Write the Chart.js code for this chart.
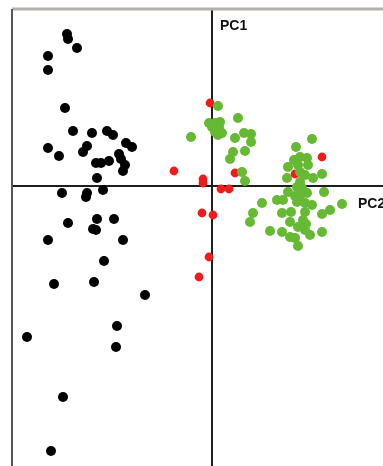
<!DOCTYPE html>
<html>
<head>
<meta charset="utf-8">
<script src="https://cdn.jsdelivr.net/npm/chart.js@4"></script>
<style>
    html, body { margin: 0; padding: 0; background: #fff; }
    #wrap { width: 383px; height: 466px; }
</style>
</head>
<body>
<div id="wrap"><canvas id="pcaChart"></canvas></div>
<script>
// PCA score plot: three groups on PC1 / PC2
const blackX = [-14.5, -14.4, -13.5, -16.4, -16.4, -14.7, -13.9, -12.0, -10.5, -9.9, -16.4, -15.3, -12.5, -12.9, -8.6, -8.0, -11.6, -11.1, -10.3, -9.3, -9.1, -8.7, -8.9, -11.5, -15.0, -12.5, -12.6, -10.9, -14.4, -11.5, -11.9, -11.6, -9.8, -16.4, -8.9, -10.8, -15.8, -11.8, -6.7, -9.5, -18.5, -9.6, -14.9, -16.1];
const blackY = [15.2, 14.7, 13.8, 13.0, 11.6, 7.8, 5.5, 5.3, 5.5, 5.1, 3.8, 3.0, 4.0, 3.4, 4.3, 3.9, 2.3, 2.3, 2.5, 3.2, 2.7, 2.1, 1.5, 0.8, -0.7, -0.7, -1.1, -0.4, -3.7, -3.3, -4.3, -4.4, -3.3, -5.4, -5.4, -7.5, -9.8, -9.6, -10.9, -14.0, -15.1, -16.1, -21.1, -26.5];

const greenX = [0.6, 2.6, -0.3, 0.3, 0.7, 0.3, 1.0, 0.6, 0.0, -2.1, 2.3, 3.2, 3.9, 3.9, 2.1, 3.3, 1.8, 3.0, 3.3, 0.8, 10.0, 8.4, 8.8, 9.5, 7.6, 8.6, 9.6, 11.0, 7.5, 9.3, 10.1, 8.8, 7.6, 9.0, 11.2, 9.5, 8.8, 6.5, 7.1, 5.0, 8.5, 9.3, 10.0, 13.0, 11.8, 7.0, 7.9, 9.3, 11.0, 8.8, 7.8, 9.1, 8.6, 5.8, 7.0, 7.8, 8.3, 9.3, 9.8, 11.0, 8.6, 4.1, 3.8, 8.5, 8.2, 9.4, 8.3];
const greenY = [8.0, 6.8, 6.3, 6.3, 5.9, 5.4, 5.3, 5.1, 5.9, 4.9, 4.8, 5.3, 5.2, 4.4, 3.4, 3.5, 2.7, 1.4, 0.5, 6.4, 4.7, 3.9, 2.9, 2.8, 1.9, 2.1, 2.1, 1.2, 0.8, 1.1, 0.8, 1.4, -0.6, -0.2, -0.6, -0.7, 0.4, -1.4, -1.4, -1.7, -1.6, -1.7, -1.9, -1.8, -2.4, -2.7, -2.6, -2.6, -2.8, -1.0, -3.6, -3.4, -4.1, -4.5, -4.6, -5.1, -5.2, -4.4, -4.9, -4.6, -6.0, -2.7, -3.6, -0.1, 2.6, -3.8, -1.0];

const redX = [-0.2, -3.8, -0.9, -0.9, 0.9, 1.7, 2.3, -1.0, 0.1, -0.3, -1.3, 11.0, 8.3];
const redY = [8.3, 1.5, 0.7, 0.3, -0.3, -0.3, 1.3, -2.7, -2.9, -7.1, -9.1, 2.9, 1.2];

// axis window
const xMin = -20.0, xMax = 17.1;
const yMin = -28.0, yMax = 17.7;

function toPoints(xs, ys) {
    return xs.map((x, i) => ({ x: x, y: ys[i] }));
}

const frameAndLabels = {
    id: 'frameAndLabels',
    beforeDatasetsDraw(chart) {
        const { ctx, chartArea } = chart;
        ctx.save();
        ctx.strokeStyle = '#b4aeac';
        ctx.lineWidth = 3;
        ctx.beginPath();
        ctx.moveTo(chartArea.left, chartArea.top);
        ctx.lineTo(chartArea.right, chartArea.top);
        ctx.stroke();
        ctx.strokeStyle = '#5a5654';
        ctx.lineWidth = 2;
        ctx.beginPath();
        ctx.moveTo(chartArea.left, chartArea.top);
        ctx.lineTo(chartArea.left, chartArea.bottom);
        ctx.stroke();
        ctx.restore();
    },
    afterDraw(chart) {
        const { ctx, scales } = chart;
        const x0 = scales.x.getPixelForValue(0);
        const y0 = scales.y.getPixelForValue(0);
        ctx.save();
        ctx.fillStyle = '#111';
        ctx.font = 'bold 14px "Liberation Sans", Arial, sans-serif';
        ctx.textBaseline = 'middle';
        ctx.textAlign = 'left';
        ctx.fillText('PC1', x0 + 8, scales.y.getPixelForValue(16.0));
        ctx.fillText('PC2', scales.x.getPixelForValue(14.6), y0 + 18);
        ctx.restore();
    }
};

const axisGrid = {
    display: true,
    color: (c) => (c.tick && c.tick.value === 0 ? '#1e1e1e' : 'rgba(0,0,0,0)'),
    lineWidth: 2,
    drawTicks: false
};

new Chart(document.getElementById('pcaChart'), {
    type: 'scatter',
    data: {
        datasets: [
            {
                label: 'Group A',
                data: toPoints(blackX, blackY),
                backgroundColor: '#000000',
                borderWidth: 0,
                pointRadius: 5
            },
            {
                label: 'Group B',
                data: toPoints(greenX, greenY),
                backgroundColor: '#66b932',
                borderWidth: 0,
                pointRadius: 5
            },
            {
                label: 'Group C',
                data: toPoints(redX, redY),
                backgroundColor: '#ee1c1c',
                borderWidth: 0,
                pointRadius: 4.4
            }
        ]
    },
    options: {
        responsive: true,
        maintainAspectRatio: false,
        animation: false,
        layout: { autoPadding: false, padding: { left: 12, top: 9, right: 0, bottom: 0 } },
        plugins: { legend: { display: false }, tooltip: { enabled: false } },
        scales: {
            x: {
                type: 'linear',
                min: xMin,
                max: xMax,
                ticks: { display: false, stepSize: 10, padding: 0 },
                grid: axisGrid,
                border: { display: false }
            },
            y: {
                type: 'linear',
                min: yMin,
                max: yMax,
                ticks: { display: false, stepSize: 10, padding: 0 },
                grid: axisGrid,
                border: { display: false }
            }
        }
    },
    plugins: [frameAndLabels]
});
</script>
</body>
</html>
